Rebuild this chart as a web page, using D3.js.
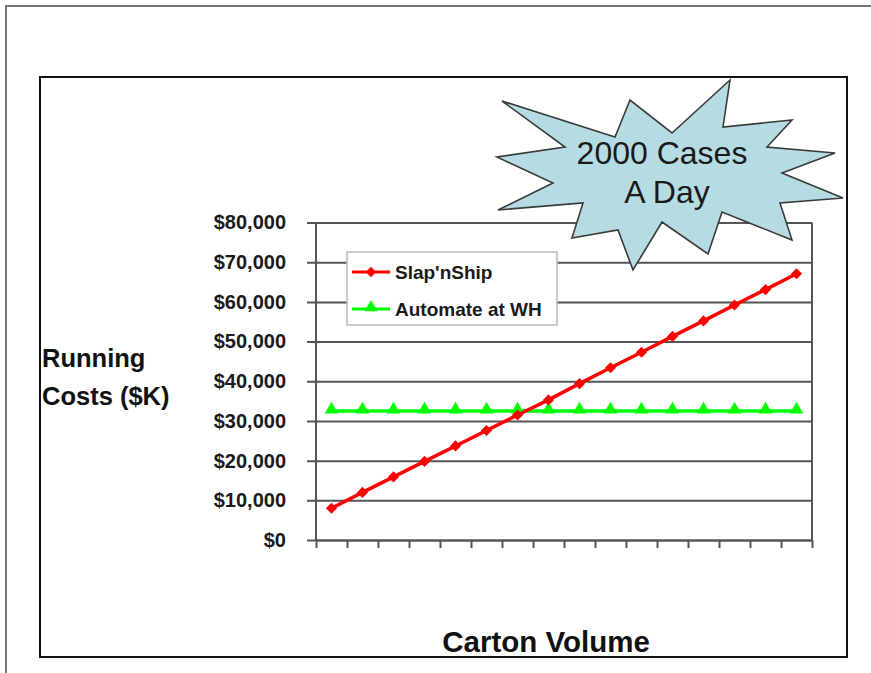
<!DOCTYPE html>
<html>
<head>
<meta charset="utf-8">
<script src="https://cdn.jsdelivr.net/npm/d3@7/dist/d3.min.js"></script>
<style>
  body { margin: 0; background: #fff; }
  svg { display: block; }
  text { font-family: "Liberation Sans", Arial, sans-serif; }
</style>
</head>
<body>
<svg id="chart" width="871" height="673"></svg>
<script>
// ---- data ----
const categories = ["1","2","3","4","5","6","7","8","9","10","11","12","13","14","15","16"];
const slapNShip = [8000, 12000, 15900, 19800, 23700, 27600, 31500, 35300, 39400, 43400, 47300, 51300, 55200, 59200, 63100, 67100];
const automateWH = [32500, 32500, 32500, 32500, 32500, 32500, 32500, 32500, 32500, 32500, 32500, 32500, 32500, 32500, 32500, 32500];
const yTicks = [0, 10000, 20000, 30000, 40000, 50000, 60000, 70000, 80000];
const seriesNames = ["Slap'nShip", "Automate at WH"];
const yTitle = ["Running", "Costs ($K)"];
const xTitle = "Carton Volume";
const calloutLines = ["2000 Cases", "A Day"];

// ---- layout ----
const svg = d3.select("#chart");
const plot = { left: 316, top: 222.5, width: 496, height: 317.5 };

// outer frame
svg.append("path").attr("d", "M6,673V6H871")
  .attr("fill", "none").attr("stroke", "#777").attr("stroke-width", 2);
// inner chart box
svg.append("rect").attr("x", 40).attr("y", 77).attr("width", 807).attr("height", 580)
  .attr("fill", "#fff").attr("stroke", "#111").attr("stroke-width", 2);

const x = d3.scaleBand().domain(categories).range([0, plot.width]);
const xEdge = d3.scaleLinear().domain([0, categories.length]).range([0, plot.width]);
const y = d3.scaleLinear().domain([0, 80000]).range([plot.height, 0]);

const g = svg.append("g").attr("transform", `translate(${plot.left},${plot.top})`);

// plot area background
g.append("rect").attr("width", plot.width).attr("height", plot.height).attr("fill", "#fff");

// y axis with gridlines
const yAxis = g.append("g").call(
  d3.axisLeft(y).tickValues(yTicks).tickSize(-plot.width).tickFormat(d3.format("$,"))
);
yAxis.select(".domain").remove();
yAxis.selectAll(".tick line")
  .attr("x1", -9).attr("x2", plot.width)
  .attr("stroke", "#555").attr("stroke-width", 2);
yAxis.selectAll(".tick text")
  .attr("x", -30)
  .attr("font-size", 20).attr("font-weight", "bold").attr("fill", "#1a1a1a")
  .style("font-family", '"Liberation Sans", Arial, sans-serif');

// plot border (left & right)
g.append("line").attr("x1", 0).attr("x2", 0).attr("y1", 0).attr("y2", plot.height)
  .attr("stroke", "#555").attr("stroke-width", 2);
g.append("line").attr("x1", plot.width).attr("x2", plot.width).attr("y1", 0).attr("y2", plot.height)
  .attr("stroke", "#555").attr("stroke-width", 2);

// x axis (ticks at category edges, no labels)
const xAxis = g.append("g").attr("transform", `translate(0,${plot.height})`).call(
  d3.axisBottom(xEdge).tickValues(d3.range(categories.length + 1)).tickSize(8).tickSizeOuter(0).tickFormat("")
);
xAxis.select(".domain").attr("stroke", "#555").attr("stroke-width", 2);
xAxis.selectAll(".tick line").attr("stroke", "#555").attr("stroke-width", 2);

// series
const cx = d => x(d) + x.bandwidth() / 2;
const line = d3.line().x((v, i) => cx(categories[i])).y(v => y(v));

g.append("path").datum(automateWH).attr("d", line)
  .attr("fill", "none").attr("stroke", "#00ff00").attr("stroke-width", 3.5);
g.selectAll(".tri").data(automateWH).join("path")
  .attr("transform", (v, i) => `translate(${cx(categories[i])},${y(v) - 1.5})`)
  .attr("d", d3.symbol(d3.symbolTriangle, 80)())
  .attr("fill", "#00ff00");

g.append("path").datum(slapNShip).attr("d", line)
  .attr("fill", "none").attr("stroke", "#ff0000").attr("stroke-width", 3.5);
g.selectAll(".dia").data(slapNShip).join("path")
  .attr("transform", (v, i) => `translate(${cx(categories[i])},${y(v)}) rotate(45)`)
  .attr("d", d3.symbol(d3.symbolSquare, 62)())
  .attr("fill", "#ff0000");

// legend
const leg = svg.append("g").attr("transform", "translate(347,252)");
leg.append("rect").attr("width", 210).attr("height", 73)
  .attr("fill", "#fff").attr("stroke", "#bbb").attr("stroke-width", 1.5);
const colors = ["#ff0000", "#00ff00"];
const symbols = [d3.symbolSquare, d3.symbolTriangle];
seriesNames.forEach((name, i) => {
  const ly = 20 + i * 37;
  leg.append("line").attr("x1", 5).attr("x2", 43).attr("y1", ly).attr("y2", ly)
    .attr("stroke", colors[i]).attr("stroke-width", 3);
  leg.append("path")
    .attr("transform", `translate(24,${ly - (i ? 1.5 : 0)})` + (i ? "" : " rotate(45)"))
    .attr("d", d3.symbol(symbols[i], i ? 75 : 55)())
    .attr("fill", colors[i]);
  leg.append("text").attr("x", 48).attr("y", ly).attr("dy", "0.36em")
    .attr("font-size", 19).attr("font-weight", "bold").attr("fill", "#1a1a1a")
    .text(name);
});

// axis titles
svg.append("text").attr("x", 42).attr("font-size", 25.5).attr("font-weight", "bold").attr("fill", "#111")
  .selectAll("tspan").data(yTitle).join("tspan")
  .attr("x", 42).attr("y", (d, i) => 367 + i * 38).text(d => d);
svg.append("text").attr("x", 546).attr("y", 652).attr("text-anchor", "middle")
  .attr("font-size", 29.5).attr("font-weight", "bold").attr("fill", "#111").text(xTitle);

// starburst callout
const star = [
  [502,101],[615,137],[630,100],[672,133],[730,80],[723,127],[792,120],[767,147],
  [835,153],[782,173],[843,198],[780,203],[792,240],[722,212],[708,254],[662,222],
  [633,270],[618,230],[572,238],[583,203],[498,210],[553,183],[497,157],[565,147]
];
svg.append("polygon").attr("points", star.map(p => p.join(",")).join(" "))
  .attr("fill", "#b5dce2").attr("stroke", "#3a3a3a").attr("stroke-width", 1.6)
  .attr("stroke-linejoin", "miter");
svg.append("text").attr("text-anchor", "middle").attr("font-size", 32).attr("fill", "#1a1a1a")
  .selectAll("tspan").data(calloutLines).join("tspan")
  .attr("x", (d, i) => i ? 667 : 662).attr("y", (d, i) => 164 + i * 39).text(d => d);
</script>
</body>
</html>
